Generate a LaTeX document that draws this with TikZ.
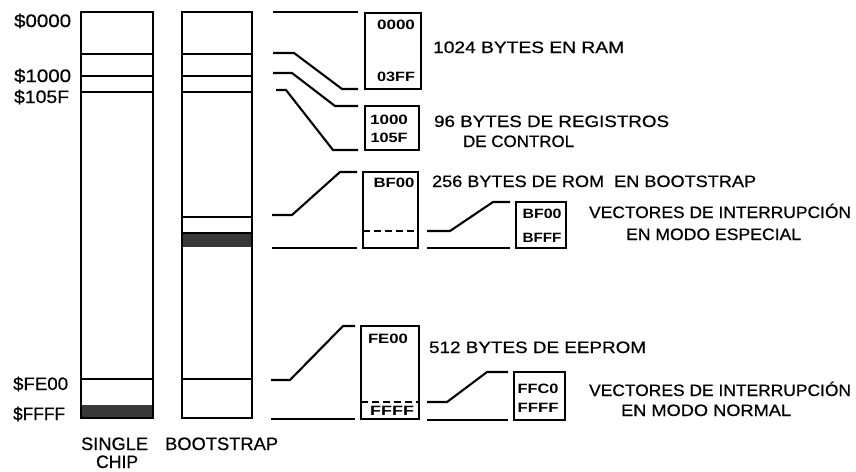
\documentclass[tikz,border=0pt]{standalone}
\usepackage{fontspec}
\setmainfont{Liberation Sans}
\newfontfamily\labf[FakeBold=0.6]{Liberation Sans}
\newfontfamily\hexf{Liberation Sans}
\newcommand{\fitw}[2]{\resizebox{#1pt}{\height}{#2}}
\begin{document}
\begin{tikzpicture}[x=1pt,y=-1pt,line width=2.2pt,
  memcol/.style={draw,line width=2.3pt,outer sep=0pt,inner sep=0pt,anchor=north west},
  rbox/.style={draw,line width=2.1pt,outer sep=0pt,inner sep=0pt,anchor=north west},
  conn/.style={line width=2.1pt,line join=miter},
  band/.style={fill=black!78},
  dsh/.style={line width=2pt,dash pattern=on 7pt off 4pt},
  lbl/.style={font=\labf\fontsize{16.5}{18}\selectfont,inner sep=0pt,anchor=base west},
  addr/.style={font=\labf\fontsize{18}{20}\selectfont,inner sep=0pt,anchor=base west},
  hex/.style={font=\hexf\bfseries\fontsize{13.5}{15}\selectfont,inner sep=0pt}]
\useasboundingbox (0,0) rectangle (856,471);

% ---- memory columns ----
\fill[band] (81,405) rectangle (153,418);
\fill[band] (182,233) rectangle (252,247);
\node[memcol,minimum width=72pt,minimum height=406pt] (sc) at (81,12) {};
\node[memcol,minimum width=70pt,minimum height=406pt] (bs) at (182,12) {};
\foreach \yy in {54,76,92,379}{
  \draw (sc.west |- 0,\yy) -- (sc.east |- 0,\yy);
  \draw (bs.west |- 0,\yy) -- (bs.east |- 0,\yy);
}
\draw (bs.west |- 0,217) -- (bs.east |- 0,217);
\draw (bs.west |- 0,233) -- (bs.east |- 0,233);

% ---- address labels ----
\node[addr] (a0) at (13,27) {\fitw{57}{\$0000}};
\node[addr] (a1) at (13,82) {\fitw{57}{\$1000}};
\node[addr] (a2) at (13,103) {\fitw{55}{\$105F}};
\node[addr] (a3) at (12,390) {\fitw{55}{\$FE00}};
\node[addr] (a4) at (12,420) {\fitw{52}{\$FFFF}};
\node[addr] (t1) at (80,450) {\fitw{67}{SINGLE}};
\node[addr] (t2) at (95,468) {\fitw{42}{CHIP}};
\node[addr] (t3) at (164,450) {\fitw{113}{BOOTSTRAP}};

% ---- right boxes ----
\node[rbox,minimum width=56pt,minimum height=76pt] (ram) at (365,13) {};
\node[rbox,minimum width=54pt,minimum height=44pt] (reg) at (365,106) {};
\node[rbox,minimum width=55pt,minimum height=76pt] (rom) at (363,172) {};
\node[rbox,minimum width=50pt,minimum height=46pt] (vsp) at (516,202) {};
\node[rbox,minimum width=58pt,minimum height=93pt] (eep) at (361,326) {};
\node[rbox,minimum width=51pt,minimum height=48pt] (vno) at (514,372) {};
\draw[dsh] (rom.west |- 0,231) -- (rom.east |- 0,231);
\draw[dsh] (eep.west |- 0,402) -- (eep.east |- 0,402);

% ---- hex labels ----
\node[hex] (h1) at (396,25) {\fitw{38}{0000}};
\node[hex] (h2) at (396,77) {\fitw{38}{03FF}};
\node[hex] (h3) at (389,120) {\fitw{38}{1000}};
\node[hex] (h4) at (389,138) {\fitw{37}{105F}};
\node[hex] (h5) at (394,183) {\fitw{41}{BF00}};
\node[hex] (h6) at (542,214) {\fitw{39}{BF00}};
\node[hex] (h7) at (542,238) {\fitw{39}{BFFF}};
\node[hex] (h8) at (388,339) {\fitw{40}{FE00}};
\node[hex] (h9) at (392,411) {\fitw{44}{FFFF}};
\node[hex] (h10) at (538,389) {\fitw{41}{FFC0}};
\node[hex] (h11) at (538,408) {\fitw{41}{FFFF}};

% ---- connector coordinates ----
\coordinate (c1s) at (273,12);  \coordinate (c1e) at (358,12);
\coordinate (c2s) at (273,53);  \coordinate (c2e) at (358,89);
\coordinate (c3s) at (273,73);  \coordinate (c3e) at (358,106);
\coordinate (c4s) at (276,90);  \coordinate (c4e) at (358,150);
\coordinate (c5s) at (272,215); \coordinate (c5e) at (357,172);
\coordinate (c5b) at (272,248); \coordinate (c5f) at (357,248);
\coordinate (c6s) at (427,231); \coordinate (c6e) at (510,202);
\coordinate (c6b) at (427,248); \coordinate (c6f) at (510,248);
\coordinate (c7s) at (271,380); \coordinate (c7e) at (355,326);
\coordinate (c7b) at (271,419); \coordinate (c7f) at (355,419);
\coordinate (c8s) at (427,402); \coordinate (c8e) at (508,372);
\coordinate (c8b) at (427,420); \coordinate (c8f) at (508,420);

\draw[conn] (c1s) -- (c1e);
\draw[conn] (c2s) -- (294,53) -- (342,89) -- (c2e);
\draw[conn] (c3s) -- (292,73) -- (335,106) -- (c3e);
\draw[conn] (c4s) -- (286,90) -- (333,150) -- (c4e);
\draw[conn] (c5s) -- (292,215) -- (340,172) -- (c5e);
\draw[conn] (c5b) -- (c5f);
\draw[conn] (c6s) -- (450,231) -- (493,202) -- (c6e);
\draw[conn] (c6b) -- (c6f);
\draw[conn] (c7s) -- (290,380) -- (343,326) -- (c7e);
\draw[conn] (c7b) -- (c7f);
\draw[conn] (c8s) -- (447,402) -- (487,372) -- (c8e);
\draw[conn] (c8b) -- (c8f);

% ---- descriptions ----
\node[lbl] (d1) at (432,53) {\fitw{191}{1024 BYTES EN RAM}};
\node[lbl] (d2) at (433,127) {\fitw{235}{96 BYTES DE REGISTROS}};
\node[lbl] (d3) at (462,147) {\fitw{111}{DE CONTROL}};
\node[lbl] (d4) at (431,187) {\fitw{324}{256 BYTES DE ROM \ EN BOOTSTRAP}};
\node[lbl] (d5) at (588,218) {\fitw{262}{VECTORES DE INTERRUPCIÓN}};
\node[lbl] (d6) at (625,240) {\fitw{175}{EN MODO ESPECIAL}};
\node[lbl] (d7) at (428,353) {\fitw{217}{512 BYTES DE EEPROM}};
\node[lbl] (d8) at (588,396) {\fitw{262}{VECTORES DE INTERRUPCIÓN}};
\node[lbl] (d9) at (620,416) {\fitw{170}{EN MODO NORMAL}};
\end{tikzpicture}
\end{document}
